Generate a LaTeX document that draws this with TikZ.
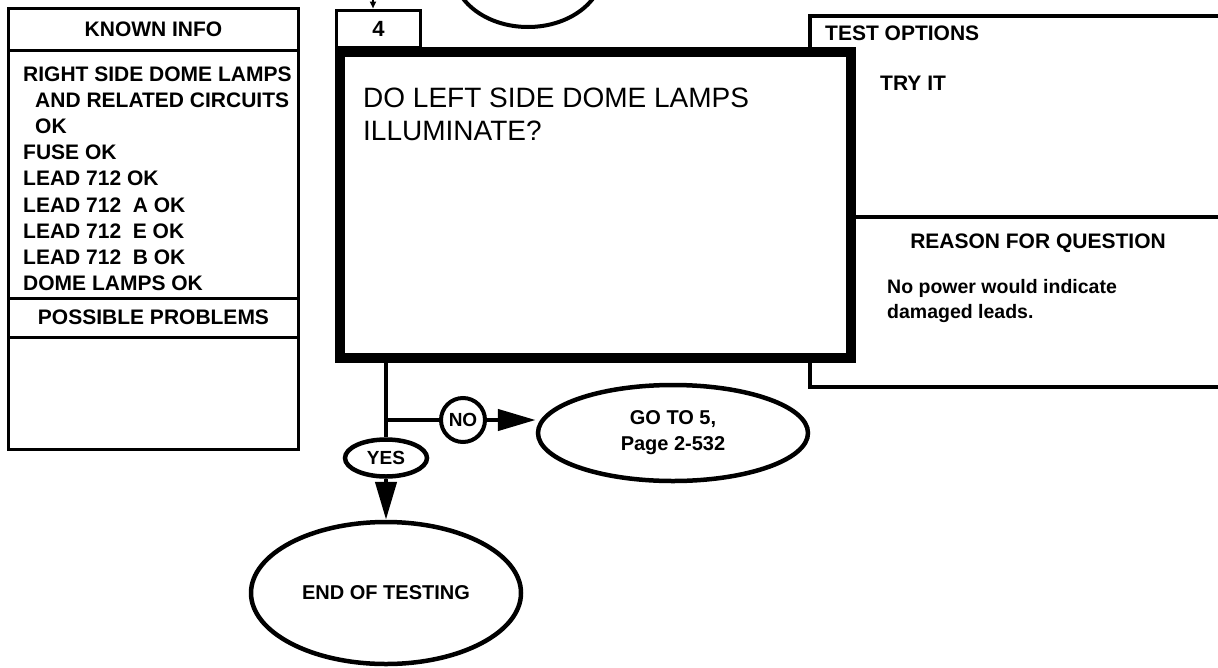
\documentclass[tikz,border=0pt]{standalone}
\usepackage{fontspec}
\setmainfont{Liberation Sans}
\usetikzlibrary{positioning, arrows.meta, shapes.geometric, calc}

\begin{document}
\begin{tikzpicture}[
    x=1pt, y=-1pt,
    font=\bfseries\fontsize{21}{26}\selectfont,
    panel/.style={rectangle, draw=black, line width=3pt, minimum width=290pt, inner sep=0pt, outer sep=0pt},
    txt/.style={anchor=base west, inner sep=0pt},
    qbox/.style={rectangle, draw=black, line width=10pt, fill=white, minimum width=511pt, minimum height=306pt},
    tab/.style={rectangle, draw=black, line width=3pt, minimum width=84pt, minimum height=37pt, inner sep=0pt},
    oval/.style={ellipse, draw=black, line width=4.5pt, fill=white, inner sep=0pt, align=center, font=\bfseries\fontsize{20}{26}\selectfont},
    arrow/.style={-{Triangle[length=38pt, width=21pt]}, line width=4.5pt},
    wire/.style={line width=4.5pt},
]
\useasboundingbox (0,0) rectangle (1218,667);
\clip (0,0) rectangle (1218,667);

% Step above (cut off)
\node[ellipse, draw, line width=4pt, minimum width=150pt, minimum height=114pt] (prev) at (528,-30) {};
\coordinate (entry) at (373,-5);

% Known info
\node[panel, minimum height=41.5pt] (known) at (153.5,29.25) {KNOWN INFO};
\node[panel, minimum height=248pt, below=0pt of known] (knownlist) {};
\node[panel, minimum height=39pt, below=0pt of knownlist] (possible) {POSSIBLE PROBLEMS};
\node[panel, minimum height=112pt, below=0pt of possible] (problems) {};
\foreach \line [count=\i] in {RIGHT SIDE DOME LAMPS, \hspace{12pt}AND RELATED CIRCUITS, \hspace{12pt}OK, FUSE OK, LEAD 712 OK, LEAD 712\ \ A OK, LEAD 712\ \ E OK, LEAD 712\ \ B OK, DOME LAMPS OK}
    \node[txt] (k\i) at (23,{81+26.2*(\i-1)}) {\line};

% Test options / reason
\node[rectangle, draw, line width=3.5pt, minimum width=440pt, minimum height=371pt] (options) at (1030,201.5) {};
\node[txt] (optlabel) at (825,40) {TEST OPTIONS};
\node[txt] (tryit) at (880,90) {TRY IT};

% Question
\node[qbox] (question) at (595.5,205) {};
\node[tab] (stepno) at (378.5,28.5) {\fontsize{22}{26}\selectfont 4};
\node[txt, font=\mdseries\fontsize{28}{33}\selectfont] (qline1) at (363,107) {DO LEFT SIDE DOME LAMPS};
\node[txt, font=\mdseries\fontsize{28}{33}\selectfont] (qline2) at (363,140) {ILLUMINATE?};
\draw[-{Triangle[length=7pt, width=6pt]}, line width=2pt] (entry) -- (entry |- stepno.north);

\coordinate (divider) at (1250,217);
\draw[line width=3.5pt] (question.east |- divider) -- (divider);
\node[txt, anchor=base] (reasonlabel) at (1038,248) {REASON FOR QUESTION};
\node[txt, font=\bfseries\fontsize{19.5}{25}\selectfont] (reason1) at (887,293) {No power would indicate};
\node[txt, font=\bfseries\fontsize{19.5}{25}\selectfont] (reason2) at (887,318) {damaged leads.};

% Answers
\coordinate (split) at (386,420);
\node[oval, minimum width=82pt, minimum height=37pt, font=\bfseries\fontsize{19}{24}\selectfont] (yes) at (386,458) {YES};
\node[circle, draw, line width=4pt, fill=white, minimum size=44pt, inner sep=0pt, font=\bfseries\fontsize{19}{24}\selectfont] (no) at (463,420) {NO};
\node[oval, minimum width=270pt, minimum height=96pt] (goto) at (673,433) {GO TO 5,\\Page 2-532};
\node[oval, minimum width=270pt, minimum height=142pt] (endtest) at (386,593) {END OF TESTING};

\draw[wire] (question.south -| split) -- (yes.north);
\draw[wire] (split) -- (no.west);
\draw[arrow] (no.east) -- (no.east -| goto.west);
\draw[arrow] (yes.south) -- (endtest.north);

\end{tikzpicture}
\end{document}
